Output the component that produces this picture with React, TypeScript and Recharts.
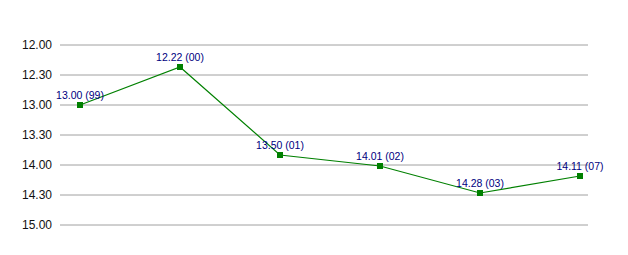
import { LineChart, Line, XAxis, YAxis, CartesianGrid, LabelList } from 'recharts';

const years = ['99', '00', '01', '02', '03', '07'];
const times = ['13.00', '12.22', '13.50', '14.01', '14.28', '14.11'];
const yTicks = [720, 750, 780, 810, 840, 870, 900];

const FONT = '"Liberation Sans Narrow", "Arial Narrow", Arial, sans-serif';

// "mm.ss" -> seconds
const toSec = (t: string) => {
  const [m, s] = t.split('.');
  return Number(m) * 60 + Number(s);
};
const fmt = (v: number) => `${Math.floor(v / 60)}.${String(v % 60).padStart(2, '0')}`;

const data = years.map((y, i) => ({ idx: i, year: y, time: times[i], sec: toSec(times[i]) }));

const Square = (props: any) => {
  const { cx, cy } = props;
  return <rect x={cx - 3} y={cy - 3} width={6} height={6} fill="#008000" />;
};

const PointLabel = (props: any) => {
  const { x, y, index } = props;
  const d = data[index];
  return (
    <text x={x} y={y - 6} textAnchor="middle" fontSize={10.5} fill="#000080" fontFamily={FONT}>
      {`${d.time} (${d.year})`}
    </text>
  );
};

export default function App() {
  return (
    <div style={{ position: 'absolute', left: 0, top: 0, background: '#fff' }}>
      <LineChart width={628} height={255} data={data} margin={{ top: 45, right: 40, bottom: 30, left: 0 }}>
        <CartesianGrid horizontal vertical={false} stroke="#a0a0a0" />
        <XAxis dataKey="idx" type="number" domain={[-0.2, 5.08]} hide />
        <YAxis
          type="number"
          domain={[720, 900]}
          ticks={yTicks}
          reversed
          width={60}
          axisLine={false}
          tickLine={false}
          tickFormatter={fmt}
          tick={{ fontSize: 12, fill: '#111', fontFamily: FONT }}
        />
        <Line
          dataKey="sec"
          stroke="#008000"
          strokeWidth={1.2}
          dot={<Square />}
          activeDot={false}
          isAnimationActive={false}
        >
          <LabelList dataKey="sec" content={<PointLabel />} />
        </Line>
      </LineChart>
    </div>
  );
}
